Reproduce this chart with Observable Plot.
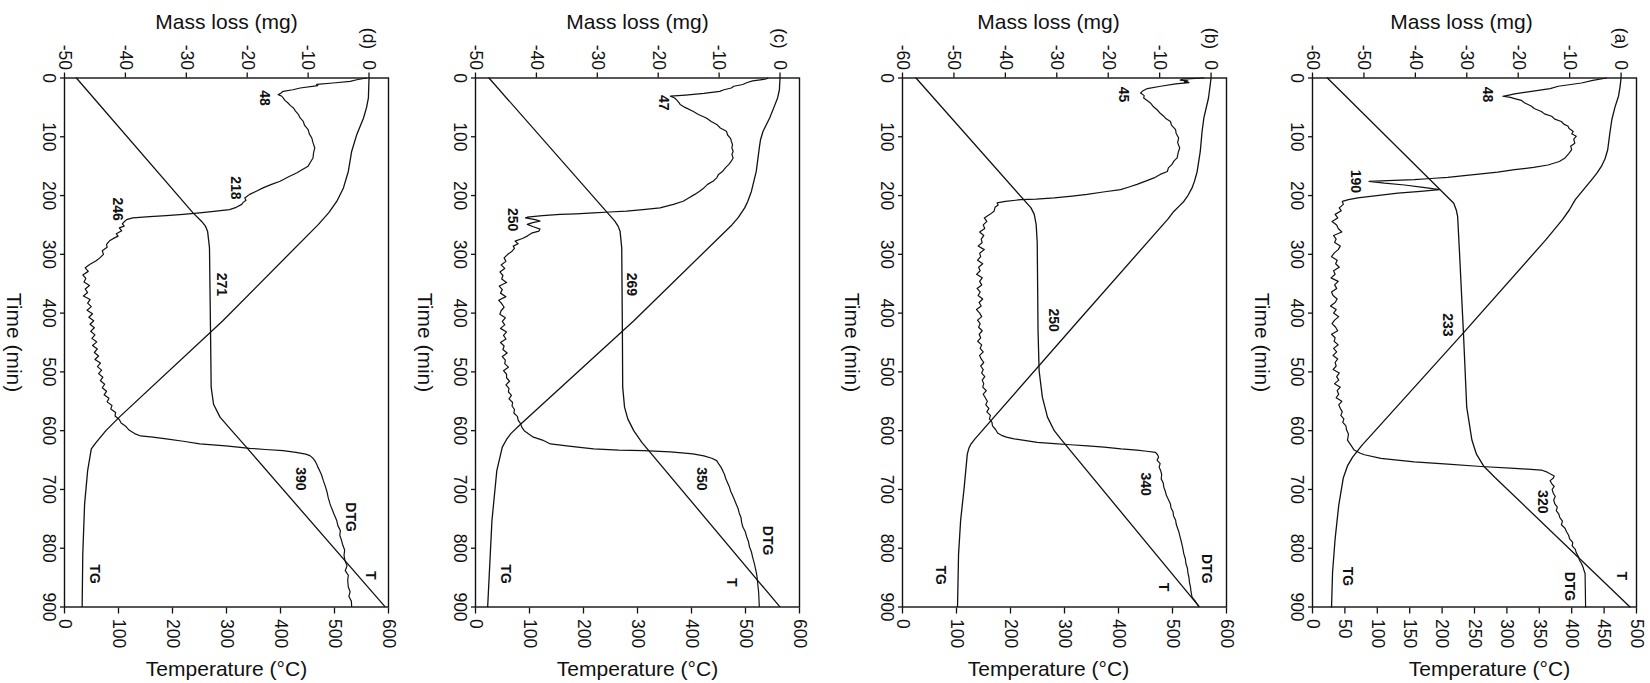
<!DOCTYPE html>
<html><head><meta charset="utf-8">
<script src="https://cdn.jsdelivr.net/npm/d3@7"></script>
<script src="https://cdn.jsdelivr.net/npm/@observablehq/plot@0.6"></script>
<style>
html,body{margin:0;padding:0;background:#fff;width:1650px;height:683px;overflow:hidden;}
#fig{position:absolute;left:0;top:0;width:683px;height:1650px;transform-origin:0 0;transform:translate(1650px,0) rotate(90deg);}
#fig svg{position:absolute;left:0;}
</style></head><body><div id="fig"></div>
<script>
// ---- shared ticks ----
const timeTicks = [0,100,200,300,400,500,600,700,800,900];
const massTicks60 = [-60,-50,-40,-30,-20,-10,0];
const massTicks50 = [-50,-40,-30,-20,-10,0];
const tempTicks500 = [0,50,100,150,200,250,300,350,400,450,500];
const tempTicks600 = [0,100,200,300,400,500,600];

// ---- panel (a) ---- [time min, temperature °C]
const tA = [[0,23],[213,218],[225,222],[236,224],[300,227],[435,233],[560,238],[616,246],[640,253],[660,264],[680,282],[900,490]];
// [time min, mass mg]
const tgA = [[0,0],[15,-0.2],[31,-0.5],[50,-1.2],[71,-1.8],[95,-2.2],[122,-2.6],[137,-3.1],[150,-3.8],[162,-4.7],[173,-5.7],[190,-7.3],[207,-8.9],[225,-10.1],[241,-11.4],[275,-14.6],[434,-30.7],[600,-47.8],[625,-50.4],[645,-52.2],[660,-53.2],[680,-54.0],[727,-54.9],[784,-55.6],[841,-56.1],[900,-56.3]];
// DTG drawn on the mass-loss axis position
const dtgA = [[0,-2.8],[4,-5.5],[8.5,-7.7],[14,-12.2],[18,-13.8],[21,-16.1],[24,-18.4],[27,-20.7],[29,-21.8],[31,-23.0],[33,-21.5],[35,-20.7],[38,-19.4],[42,-18.8],[48,-17.4],[52,-16.9],[57,-15.5],[61,-14.9],[65,-13.5],[70,-12.9],[74,-11.6],[78,-11.2],[82,-10.3],[86,-10.1],[91,-9.3],[95,-9.6],[99,-8.7],[104,-9.2],[111,-9.0],[116,-9.8],[122,-9.6],[129,-10.2],[136,-10.9],[142,-12.0],[148,-14.2],[152,-17.0],[156,-20.7],[160,-24.0],[163,-27.2],[166,-30.5],[169,-33.7],[171,-37.0],[173,-40.2],[174.5,-45.4],[176,-49.0],[179,-46.0],[182,-42.1],[186,-38.5],[190,-35.3],[193,-39.0],[196,-43.4],[200,-47.5],[204,-51.2],[207,-53.0],[210,-54.2],[215,-54.0],[221,-54.8],
[226,-54.4],[232,-55.6],[238,-55.1],[244,-56.2],[250,-55.3],[256,-55.0],[262,-54.3],[268,-55.9],[274,-55.4],[280,-55.7],[286,-54.6],[292,-55.0],[298,-55.8],[304,-56.3],[310,-55.2],[316,-55.5],[322,-54.8],[328,-55.9],[334,-55.6],[340,-56.4],[346,-55.0],[352,-55.7],[358,-55.3],[364,-56.3],[370,-56.0],[376,-55.2],[382,-55.6],[388,-56.5],[394,-55.4],[400,-55.9],[406,-54.9],[412,-55.7],[418,-56.2],[424,-55.5],[430,-55.1],[436,-56.3],[442,-55.6],[448,-55.8],[454,-55.0],[460,-55.9],[466,-55.3],[472,-56.0],[478,-55.1],[484,-55.6],[490,-55.4],[496,-56.0],[502,-54.8],[508,-55.3],[514,-54.9],[520,-55.7],[526,-54.6],[532,-55.2],[538,-54.9],[544,-55.4],[550,-54.3],[556,-54.9],[562,-54.6],[568,-54.2],[574,-54.5],[580,-53.9],[586,-54.1],[592,-53.5],[598,-53.4],
[606,-53.0],[616,-53.2],[625,-52.5],[633,-51.9],[638,-50.8],[641,-49.9],[647,-46.7],[650,-43.5],[653,-40.2],[657,-33.7],[661,-27.2],[664,-20.7],[667,-15.5],[670,-14.5],[673,-13.9],[677,-13.0],[681,-13.2],[685,-13.8],[690,-13.5],[695,-13.0],[700,-13.4],[706,-13.2],[712,-12.8],[718,-13.1],[724,-12.9],[730,-12.4],[736,-12.6],[742,-12.1],[748,-11.9],[754,-11.4],[760,-11.6],[766,-10.9],[772,-10.6],[778,-10.2],[784,-10.0],[790,-9.4],[796,-9.5],[802,-8.9],[808,-8.7],[814,-8.3],[820,-8.1],[826,-7.7],[832,-7.4],[838,-7.2],[843,-7.0],[870,-6.95],[900,-6.9]];
const labelsA = [[28,-25.9,"48"],[176,-51.6,"190"],[420,-33.7,"233"],[721,-15.2,"320"],[848,-53.2,"TG"],[865,-10.0,"DTG"],[847,0.1,"T"]];

// ---- panel (b) ----
const tB = [[0,25],[221,238],[232,244],[249,247.5],[280,249.5],[430,251],[498,253],[543,259],[577,268.5],[600,281],[614,293],[899,549]];
const tgB = [[0,0],[34,-0.5],[68,-1.4],[91,-1.75],[125,-2.1],[159,-2.7],[175,-3.2],[187,-3.7],[200,-4.5],[210,-5.3],[218,-6.2],[227,-7.25],[240,-8.4],[413,-25.8],[600,-44.5],[614,-45.9],[623,-46.7],[630,-47.1],[640,-47.4],[696,-48.0],[753,-48.7],[810,-49.1],[899,-49.3]];
const dtgB = [[0,-1.4],[2,-5.5],[3.5,-6.0],[5,-4.5],[6.5,-5.2],[8,-4.3],[10,-6.9],[14,-9.8],[18,-12.4],[22,-13.3],[25.5,-13.7],[30,-13.0],[34,-13.1],[38,-12.5],[42.5,-11.8],[48,-11.3],[54,-10.5],[59,-10.0],[65,-9.2],[69,-8.8],[74,-7.9],[80,-7.7],[88,-6.9],[94,-6.8],[102,-6.3],[110,-6.5],[119,-6.1],[127,-6.4],[136,-6.6],[141,-7.2],[147,-7.6],[153,-8.3],[159,-8.5],[164,-9.9],[170,-11.1],[175,-12.6],[181,-14.4],[185,-15.8],[190,-17.6],[194,-21.0],[198,-24.1],[201,-27.0],[204,-30.5],[206,-34.0],[207,-37.0],[210,-40.0],[212.5,-41.6],[216,-41.4],[220,-42.0],[226.6,-42.2],
[232,-43.0],[238,-44.1],[244,-43.6],[250,-44.3],[256,-44.0],[262,-45.0],[268,-44.2],[274,-44.7],[280,-44.5],[286,-45.3],[292,-44.1],[298,-45.0],[304,-44.8],[310,-45.4],[316,-44.4],[322,-45.2],[328,-44.9],[334,-45.6],[340,-44.5],[346,-45.0],[352,-44.6],[358,-45.5],[364,-44.9],[370,-45.3],[376,-44.4],[382,-45.1],[388,-44.7],[394,-45.6],[400,-45.0],[406,-44.6],[412,-45.4],[418,-44.9],[424,-45.2],[430,-44.5],[436,-45.1],[442,-44.8],[448,-45.4],[454,-44.6],[460,-44.9],[466,-44.3],[472,-45.0],[478,-44.7],[484,-44.2],[490,-44.8],[496,-44.3],[502,-44.6],[508,-44.0],[514,-44.5],[520,-44.2],[526,-44.4],[532,-43.7],[538,-44.3],[544,-43.9],[550,-43.5],[556,-43.8],[562,-43.2],[568,-43.6],[574,-42.9],[580,-43.1],[586,-42.6],[592,-42.5],[598,-41.9],
[604,-41.5],[608.5,-40.6],[611,-39.8],[614,-38.3],[617,-36.0],[620,-33.8],[622,-30.5],[624,-27.3],[626,-24.0],[628,-20.8],[631,-17.5],[633,-14.4],[635,-12.5],[637,-10.8],[641,-10.4],[645,-10.2],[650,-10.5],[656,-9.9],[662,-10.1],[668,-9.8],[675,-9.6],[682,-9.7],[689,-9.3],[696,-9.2],[703,-8.9],[710,-8.7],[717,-8.3],[724.6,-7.9],[731,-7.8],[738,-7.4],[745,-7.3],[752,-6.9],[758,-6.8],[764,-6.6],[771,-6.3],[778,-6.1],[785,-5.9],[792,-5.7],[800,-5.5],[809.6,-5.3],[818,-5.0],[826,-4.9],[834,-4.6],[842,-4.5],[850,-4.3],[858,-4.2],[866,-4.0],[874,-3.9],[883,-3.7],[891,-3.0],[899,-2.4]];
const labelsB = [[28,-17.0,"45"],[412,-30.7,"250"],[691,-12.75,"340"],[846,-52.6,"TG"],[866,-9.2,"T"],[835,-0.8,"DTG"]];

// ---- panel (c) ----
const tC = [[0,25],[243.6,258],[252,264],[260.6,267.7],[289,270.8],[430,272],[526,272.6],[560,276],[580,282],[600,293],[620,308],[899,563]];
const tgC = [[0,0],[20,-0.1],[34,-0.4],[50,-1.0],[68,-1.7],[91,-2.8],[105,-3.2],[119,-3.4],[159,-3.9],[193,-4.7],[210,-5.3],[221,-5.8],[238,-6.9],[250,-7.9],[413,-24.0],[589,-42.6],[605,-44.2],[615,-44.9],[628,-45.6],[668,-46.5],[753,-47.3],[899,-48.0]];
const dtgC = [[0,-2.0],[1.7,-2.3],[5,-4.5],[8,-5.5],[11,-6.1],[14,-7.6],[17,-8.0],[20,-9.2],[22.7,-9.9],[26,-12.5],[29,-15.5],[31,-18.0],[34,-17.3],[38,-16.9],[42,-16.6],[45,-16.4],[50,-15.6],[56.7,-14.3],[62,-13.4],[68,-12.1],[74,-11.3],[79,-10.4],[85,-9.8],[90.7,-8.8],[97,-8.6],[103,-8.1],[107.6,-8.0],[113,-7.8],[119,-7.9],[124.6,-7.7],[130,-7.9],[136,-7.7],[141.6,-8.0],[147,-8.4],[152,-8.9],[158.6,-9.4],[164,-10.1],[170,-10.4],[175.6,-11.0],[181,-11.9],[187,-12.5],[192.6,-13.2],[198,-14.0],[204,-15.0],[209.6,-15.9],[215,-17.5],[221,-19.7],[224,-22.5],[226.6,-25.2],[228,-28.0],[229.5,-30.6],[231,-33.5],[232,-36.1],[234,-39.0],[236.8,-41.5],[238,-41.8],[241,-40.2],[243.6,-39.4],[246,-40.6],[249,-41.5],[253,-40.5],[257,-39.4],[260.6,-39.6],[264,-40.8],[269,-41.5],[273,-42.3],[277.6,-43.5],[282,-43.0],[286,-43.8],[290,-43.6],[294.6,-44.0],
[300,-44.7],[306,-45.3],[312,-45.0],[318,-45.8],[324,-45.2],[330,-46.0],[336,-45.5],[342,-45.7],[348,-44.9],[354,-46.1],[360,-45.6],[366,-45.9],[372,-45.0],[378,-46.2],[384,-45.7],[390,-45.3],[396,-45.8],[402,-46.0],[408,-45.1],[414,-45.6],[420,-45.2],[426,-45.9],[432,-44.9],[438,-45.4],[444,-45.0],[450,-45.9],[456,-45.3],[462,-45.5],[468,-44.8],[474,-45.6],[480,-45.1],[486,-45.2],[492,-44.6],[498,-45.4],[504,-44.9],[510,-44.9],[516,-44.4],[522,-45.0],[528,-44.5],[534,-44.6],[540,-44.1],[546,-44.5],[552,-43.9],[558,-44.0],[564,-43.6],[570,-43.7],[576,-43.1],[582,-43.0],[588,-42.6],[594,-42.4],[600,-42.0],
[606,-41.2],[611,-40.5],[616,-39.0],[622.6,-37.7],[626,-35.0],[629,-32.5],[631,-30.6],[633,-26.5],[634,-22.4],[636,-18.0],[639.6,-14.3],[643,-12.5],[647,-11.2],[651,-10.4],[656,-10.1],[662,-9.7],[668,-9.4],[675,-9.1],[682,-8.9],[689,-8.6],[696,-8.3],[703,-8.1],[710,-7.8],[717,-7.5],[724.6,-7.2],[732,-6.9],[740,-6.7],[748,-6.4],[756,-6.3],[764,-6.1],[772,-5.7],[780,-5.5],[788,-5.2],[798,-5.0],[806,-4.7],[815,-4.5],[826.6,-4.2],[836,-4.0],[846,-3.8],[856,-3.7],[866,-3.6],[876,-3.5],[888,-3.45],[899,-3.4]];
const labelsC = [[42,-19.2,"47"],[241,-44.0,"250"],[351,-24.4,"269"],[682,-12.9,"350"],[787,-2.0,"DTG"],[858,-8.0,"T"],[844,-45.1,"TG"]];

// ---- panel (d) ----
const tD = [[0,22],[229.5,238],[244,254],[252,261],[261,265],[289,268.5],[430,270.4],[526,271.6],[555,276],[577,288],[594,304],[620,329],[899,593]];
const tgD = [[0,0],[34,-0.1],[50,-0.4],[68,-0.9],[96,-2.0],[125,-2.85],[159,-3.4],[187,-4.2],[210,-5.3],[229,-6.6],[249,-8.3],[413,-24.0],[577,-41.0],[600,-43.2],[620,-44.8],[631,-45.6],[668,-46.2],[725,-46.7],[810,-47.0],[899,-47.1]];
const dtgD = [[0,-0.4],[3,-2.0],[5.7,-3.1],[8.5,-5.9],[11,-8.6],[13,-8.4],[17,-11.3],[20,-12.5],[22.7,-14.1],[26,-14.5],[28.3,-14.9],[31,-14.3],[34,-14.1],[38,-13.8],[42.5,-13.3],[47,-12.9],[51,-12.4],[56,-12.1],[62,-11.6],[68,-11.3],[73.7,-10.8],[80,-10.6],[87.8,-10.0],[95,-9.8],[102,-9.4],[110,-9.2],[119,-8.9],[127,-9.1],[136,-9.2],[143,-9.6],[150,-10.0],[156,-11.0],[161.5,-11.9],[168,-13.2],[175.6,-14.6],[181,-16.0],[187,-17.4],[193,-18.6],[198,-19.6],[204,-20.4],[208,-20.2],[212,-20.7],[215,-20.9],[220,-21.8],[224,-22.9],[227,-25.5],[229.5,-27.8],[232,-30.5],[234,-33.3],[236,-36.0],[238,-38.8],[241,-39.8],[243.6,-40.1],[248,-40.5],[252,-40.2],[255,-41.0],[260,-40.6],[265,-41.5],[269,-41.2],[272,-41.8],[277,-42.6],[283,-43.1],[288,-43.0],[294,-43.8],[300,-43.6],[306,-44.2],[311,-44.8],
[317,-45.8],[323,-46.6],[329,-46.1],[335,-47.0],[341,-46.5],[347,-46.8],[353,-45.9],[359,-46.6],[365,-46.2],[371,-46.9],[377,-45.8],[383,-46.2],[389,-45.6],[395,-46.3],[401,-45.4],[407,-46.0],[413,-45.2],[419,-45.8],[425,-45.1],[431,-45.7],[437,-45.0],[443,-45.5],[449,-44.7],[455,-45.4],[461,-44.6],[467,-45.1],[473,-44.4],[479,-45.0],[485,-44.1],[491,-44.6],[497,-43.9],[503,-44.4],[509,-43.7],[515,-44.1],[521,-43.4],[527,-43.8],[533,-43.1],[539,-43.5],[545,-42.7],[551,-43.0],[557,-42.2],[563,-42.4],[569,-41.6],[575,-41.7],[581,-41.0],[587,-40.7],[593,-39.9],[599,-39.4],[605,-38.5],
[609,-37.5],[611,-35.5],[614,-33.3],[618,-30.5],[622.6,-27.8],[626,-23.5],[630,-19.6],[632,-17.0],[634,-14.1],[637,-12.0],[640,-10.4],[642.5,-9.7],[647,-9.2],[651,-8.9],[656.6,-8.6],[662,-8.4],[668,-8.1],[675,-7.8],[685,-7.5],[694,-7.2],[704,-6.9],[714,-6.7],[724.6,-6.4],[733,-6.1],[743,-5.7],[753,-5.3],[762,-5.1],[770,-4.7],[778,-4.8],[787,-4.5],[795,-4.3],[803,-4.0],[812,-4.1],[821,-3.95],[830,-3.6],[838,-3.9],[846,-3.4],[855,-3.5],[866,-3.4],[874,-3.1],[882,-3.3],[890,-2.9],[899,-2.85]];
const labelsD = [[34,-17.1,"48"],[187,-22.0,"218"],[223,-41.3,"246"],[351,-24.2,"271"],[682,-11.2,"390"],[747,-3.1,"DTG"],[846,0.2,"T"],[844,-45.1,"TG"]];

// ---- panel setup ----
const panels = [
  {tag:"(a)", top:0,    mMin:-60, mTop:3.0, massTicks:massTicks60, tMax:500, tempTicks:tempTicks500, T:tA, TG:tgA, DTG:dtgA, labels:labelsA, massTitleDy:13, tempTitleDy:-15},
  {tag:"(b)", top:410,  mMin:-60, mTop:3.0, massTicks:massTicks60, tMax:600, tempTicks:tempTicks600, T:tB, TG:tgB, DTG:dtgB, labels:labelsB, massTitleDy:16, tempTitleDy:16},
  {tag:"(c)", top:837,  mMin:-50, mTop:3.2, massTicks:massTicks50, tMax:600, tempTicks:tempTicks600, T:tC, TG:tgC, DTG:dtgC, labels:labelsC, massTitleDy:0, tempTitleDy:0},
  {tag:"(d)", top:1248, mMin:-50, mTop:3.2, massTicks:massTicks50, tMax:600, tempTicks:tempTicks600, T:tD, TG:tgD, DTG:dtgD, labels:labelsD, massTitleDy:0, tempTitleDy:0}
];

const FONT = "'Liberation Sans', Arial, Helvetica, sans-serif";
const INK = "#111";
const fig = document.getElementById("fig");

for (const p of panels) {
  const toMass = T => p.mMin + T / p.tMax * (p.mTop - p.mMin);
  const fromMass = m => (m - p.mMin) / (p.mTop - p.mMin) * p.tMax;
  const chart = Plot.plot({
    width: 683, height: 402,
    marginTop: 13, marginBottom: 65, marginLeft: 77.5, marginRight: 76.5,
    x: {domain: [0, 900]},
    y: {domain: [p.mMin, p.mTop]},
    style: {fontFamily: FONT, fontSize: "17.5px", background: "transparent", color: INK, overflow: "visible"},
    marks: [
      Plot.axisX(timeTicks, {tickSize: 5, tickPadding: 4, label: null, tickFormat: d => String(d), fontSize: 17.5, strokeWidth: 1.3}),
      Plot.axisY(p.massTicks, {anchor: "left", tickSize: 5, tickPadding: 3, label: null, tickFormat: d => String(d), fontSize: 17.5, strokeWidth: 1.3}),
      Plot.axisY(p.tempTicks.map(toMass), {anchor: "right", tickSize: 6, tickPadding: 6, label: null, tickFormat: d => String(Math.round(fromMass(d))), fontSize: 17.5, strokeWidth: 1.3}),
      Plot.line(p.T, {x: d => d[0], y: d => toMass(d[1]), stroke: INK, strokeWidth: 1.3}),
      Plot.line(p.TG, {x: d => d[0], y: d => d[1], stroke: INK, strokeWidth: 1.3}),
      Plot.line(p.DTG, {x: d => d[0], y: d => d[1], stroke: INK, strokeWidth: 1.2, strokeLinejoin: "round"}),
      Plot.frame({stroke: INK, strokeWidth: 1.4}),
      Plot.text(p.labels, {x: d => d[0], y: d => d[1], text: d => d[2], fontWeight: "bold", fontSize: 14, fill: INK, textAnchor: "middle", lineAnchor: "middle"}),
      Plot.text([p.tag], {y: 0, frameAnchor: "left", dx: -39.5, text: d => d, fontSize: 17.5, fill: INK, textAnchor: "middle", lineAnchor: "middle"}),
      Plot.text(["Time (min)"], {frameAnchor: "bottom", dy: 50.5, text: d => d, fontSize: 21, fill: INK, textAnchor: "middle", lineAnchor: "middle"}),
      Plot.text(["Mass loss (mg)"], {frameAnchor: "left", dx: -56, dy: p.massTitleDy, rotate: -90, text: d => d, fontSize: 21, fill: INK, textAnchor: "middle", lineAnchor: "middle"}),
      Plot.text(["Temperature (°C)"], {frameAnchor: "right", dx: 62.5, dy: p.tempTitleDy, rotate: -90, text: d => d, fontSize: 21, fill: INK, textAnchor: "middle", lineAnchor: "middle"})
    ]
  });
  chart.style.top = p.top + "px";
  fig.appendChild(chart);
}
</script></body></html>
